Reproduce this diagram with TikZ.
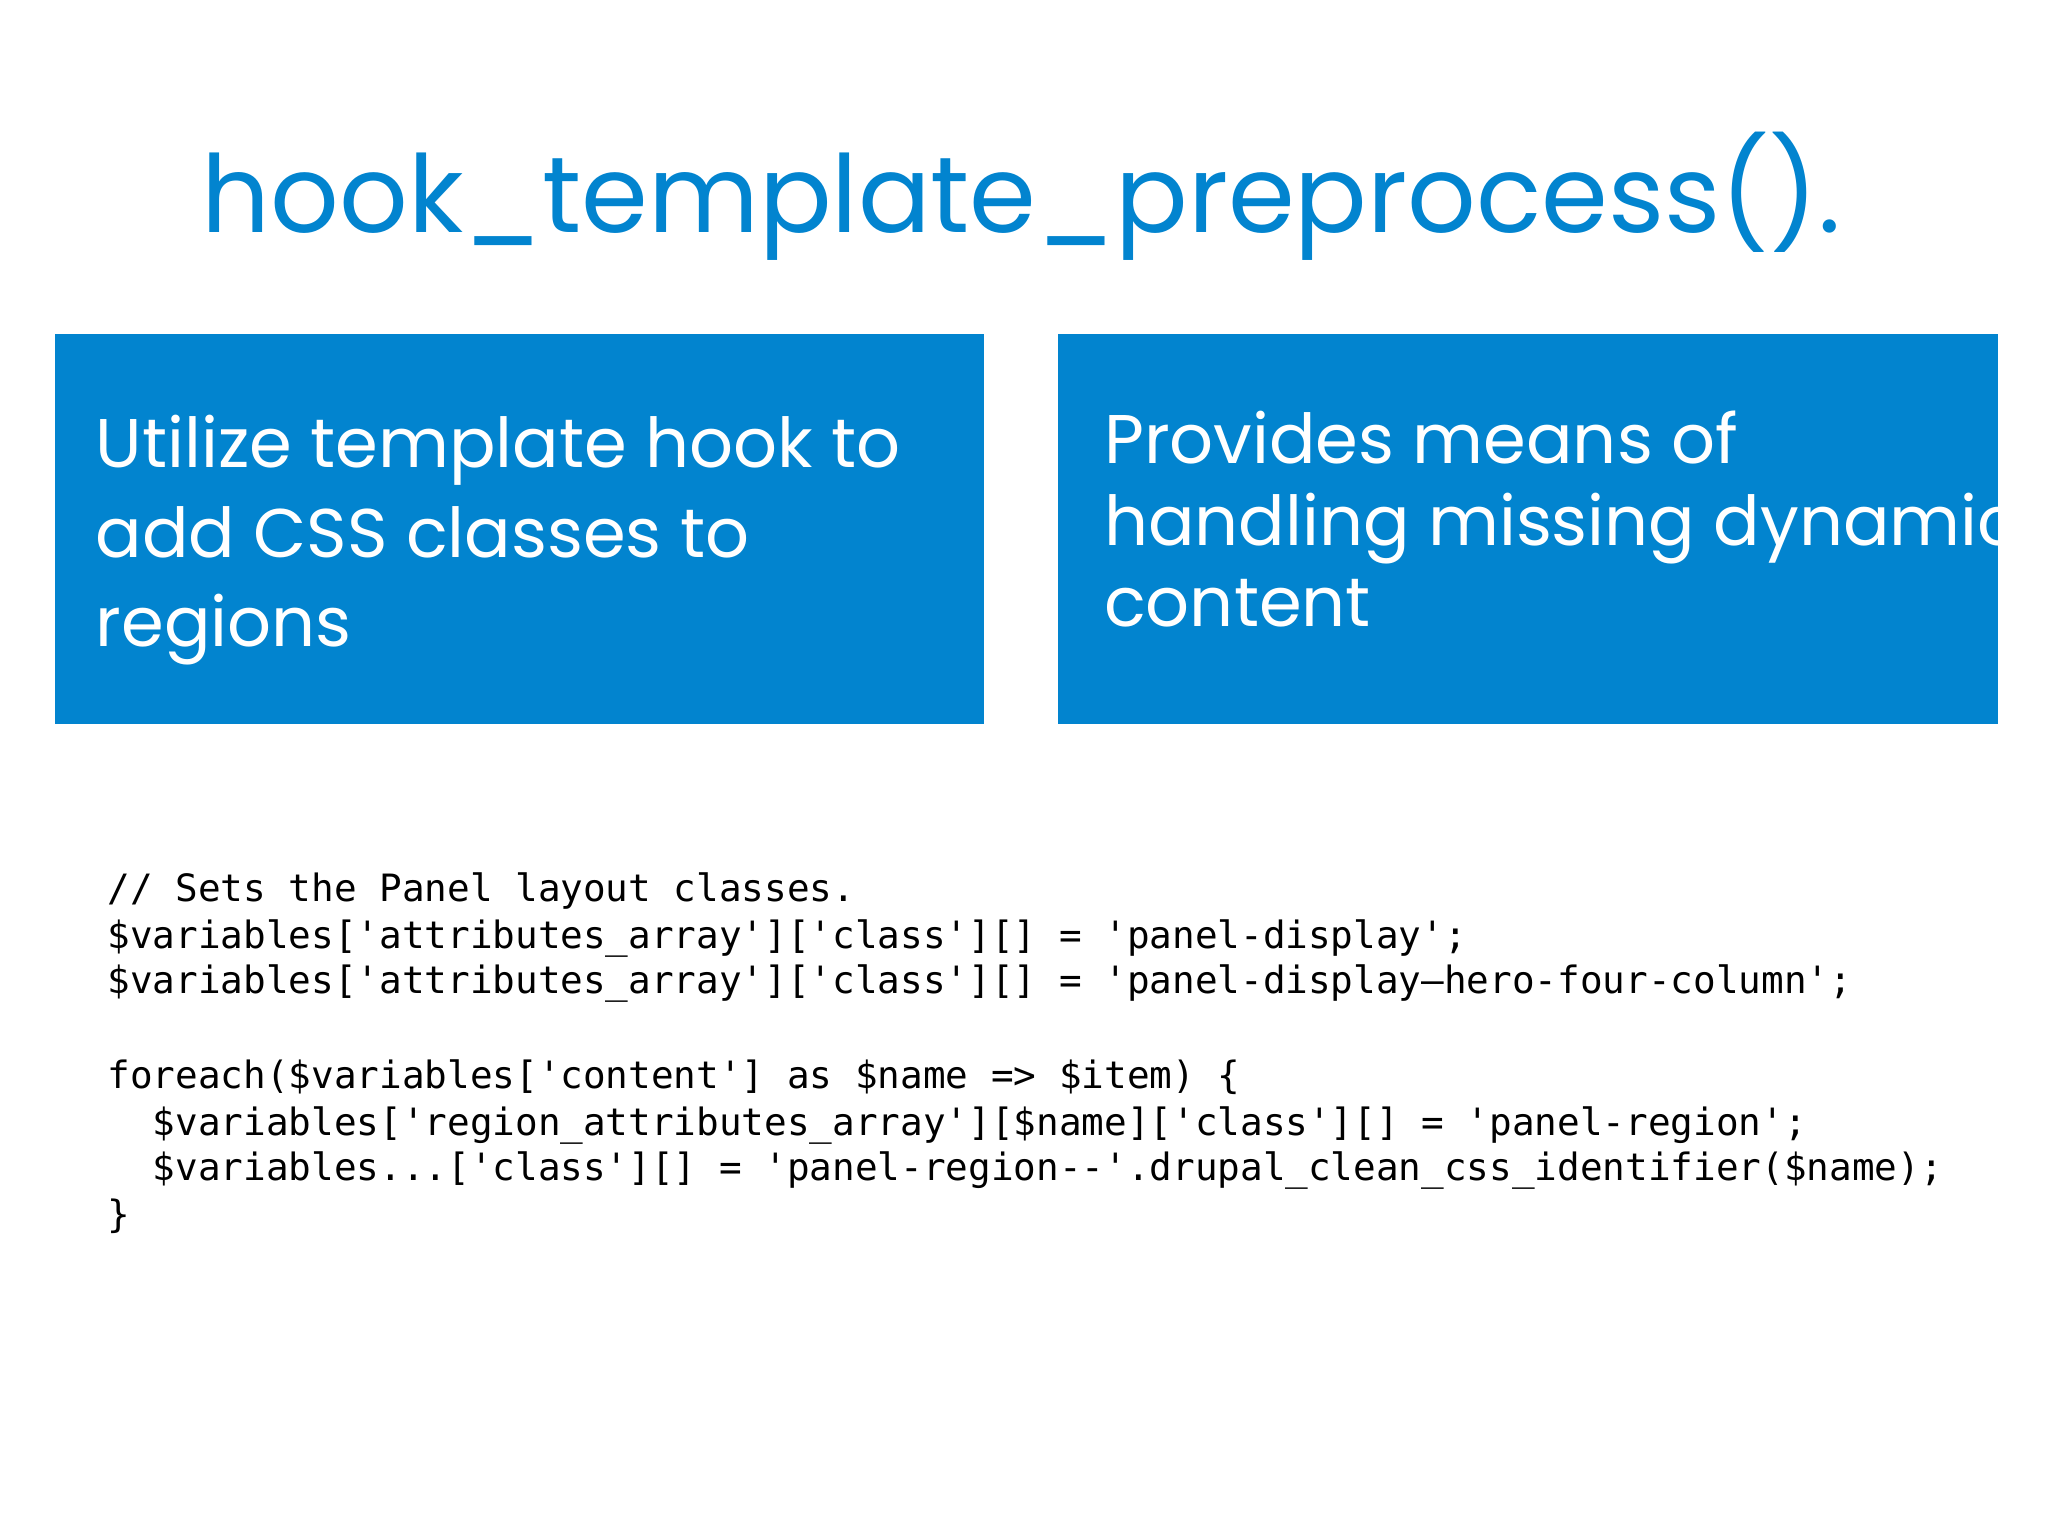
\documentclass[tikz,border=0pt]{standalone}
\usepackage{fontspec}
\setmainfont{Poppins}
\newfontfamily\codefont{DejaVu Sans Mono}
\definecolor{slideblue}{HTML}{0284CF}
\begin{document}
\begin{tikzpicture}[x=0.02cm,y=-0.02cm,
  panel/.style={fill=slideblue,draw=none},
  paneltext/.style={anchor=north west,align=left,text=white,inner sep=0pt,font=\fontsize{31}{36}\selectfont},
  codeline/.style={anchor=base west,inner sep=0pt,font=\codefont\fontsize{16.4}{20}\selectfont}]
\useasboundingbox (0,0) rectangle (1568,1176);
\node[anchor=base,text=slideblue,inner sep=0pt] (title) at (782,178)
  {\resizebox{1255\dimexpr0.02cm\relax}{!}{\fontsize{50}{60}\selectfont hook\_template\_preprocess().}};
\fill[panel] (42,256) rectangle (753,554);
\fill[panel] (810,256) rectangle (1530,554);
\node[anchor=base west,text=white,inner sep=0pt,font=\fontsize{30}{36}\selectfont] (l1) at (73,358) {Utilize template hook to};
\node[anchor=base west,text=white,inner sep=0pt,font=\fontsize{30}{36}\selectfont] (l2) at (73,427) {add CSS classes to};
\node[anchor=base west,text=white,inner sep=0pt,font=\fontsize{30}{36}\selectfont] (l3) at (73,495) {regions};
\node[anchor=base west,text=white,inner sep=0pt,font=\fontsize{30}{36}\selectfont] (r1) at (845,355) {Provides means of};
\node[anchor=base west,text=white,inner sep=0pt,font=\fontsize{30}{36}\selectfont] (r2) at (845,418) {handling missing dynamic};
\node[anchor=base west,text=white,inner sep=0pt,font=\fontsize{30}{36}\selectfont] (r3) at (845,480) {content};
\node[codeline] (c1) at (82,690) {// Sets the Panel layout classes.};
\node[codeline] (c2) at (82,726) {\$variables['attributes\_array']['class'][] = 'panel-display';};
\node[codeline] (c3) at (82,761) {\$variables['attributes\_array']['class'][] = 'panel-display—hero-four-column';};
\node[codeline] (c4) at (82,833) {foreach(\$variables['content'] as \$name => \$item) \{};
\node[codeline] (c5) at (82,869) {\ \ \$variables['region\_attributes\_array'][\$name]['class'][] = 'panel-region';};
\node[codeline] (c6) at (82,904) {\ \ \$variables...['class'][] = 'panel-region--'.drupal\_clean\_css\_identifier(\$name);};
\node[codeline] (c7) at (82,940) {\}};
\end{tikzpicture}
\end{document}
